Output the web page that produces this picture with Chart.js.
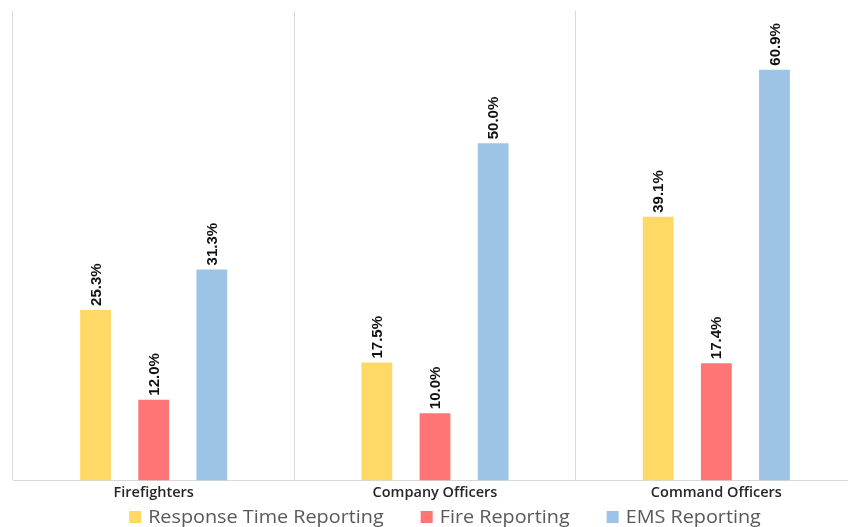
<!DOCTYPE html>
<html>
<head>
<meta charset="utf-8">
<script src="https://cdn.jsdelivr.net/npm/chart.js@4/dist/chart.umd.min.js"></script>
<style>
html,body{margin:0;padding:0;background:#fff;overflow:hidden;width:848px;height:527px;}
#wrap{position:absolute;left:0;top:0;width:862px;height:527px;}
</style>
</head>
<body>
<div id="wrap"><canvas id="c" width="862" height="527"></canvas></div>
<script>
const categories = ["Firefighters", "Company Officers", "Command Officers"];
const seriesNames = ["Response Time Reporting", "Fire Reporting", "EMS Reporting"];
const responseTime = [25.3, 17.5, 39.1];
const fireReporting = [12.0, 10.0, 17.4];
const emsReporting = [31.3, 50.0, 60.9];
const seriesColors = ["#FFD966", "#FF7575", "#9DC3E6"];

const barLabels = {
  id: 'barLabels',
  afterDatasetsDraw(chart) {
    const ctx = chart.ctx;
    ctx.save();
    ctx.font = 'bold 15px "Liberation Sans", sans-serif';
    ctx.fillStyle = '#111';
    ctx.textAlign = 'left';
    ctx.textBaseline = 'middle';
    chart.data.datasets.forEach((ds, i) => {
      const meta = chart.getDatasetMeta(i);
      meta.data.forEach((el, j) => {
        ctx.save();
        ctx.translate(el.x + 1, el.y - 4);
        ctx.rotate(-Math.PI / 2);
        ctx.fillText(ds.data[j].toFixed(1) + '%', 0, 0);
        ctx.restore();
      });
    });
    ctx.restore();
  }
};

const bottomLegend = {
  id: 'bottomLegend',
  afterDraw(chart) {
    const ctx = chart.ctx;
    ctx.save();
    ctx.font = '18px "Open Sans", sans-serif';
    ctx.textBaseline = 'middle';
    ctx.textAlign = 'left';
    const stretch = 1.1;
    const box = 12, gapText = 7, gapItem = 37;
    const items = chart.data.datasets.map(ds => ({ label: ds.label, color: ds.backgroundColor, w: ctx.measureText(ds.label).width * stretch }));
    let total = 0;
    items.forEach((it, i) => { total += box + gapText + it.w + (i < items.length - 1 ? gapItem : 0); });
    const ca = chart.chartArea;
    let x = (ca.left + ca.right) / 2 + 10 - total / 2;
    const y = 517;
    items.forEach(it => {
      ctx.fillStyle = it.color;
      ctx.fillRect(x, y - box / 2, box, box);
      x += box + gapText;
      ctx.fillStyle = '#595959';
      ctx.save();
      ctx.translate(x, y + 1);
      ctx.scale(stretch, 1);
      ctx.fillText(it.label, 0, 0);
      ctx.restore();
      x += it.w + gapItem;
    });
    ctx.restore();
  }
};

new Chart(document.getElementById('c'), {
  type: 'bar',
  data: {
    labels: categories,
    datasets: [
      { label: seriesNames[0], data: responseTime, backgroundColor: seriesColors[0] },
      { label: seriesNames[1], data: fireReporting, backgroundColor: seriesColors[1] },
      { label: seriesNames[2], data: emsReporting, backgroundColor: seriesColors[2] }
    ]
  },
  options: {
    responsive: false,
    animation: false,
    devicePixelRatio: 1,
    datasets: { bar: { categoryPercentage: 0.62, barPercentage: 0.53 } },
    layout: { padding: { left: 13, right: 5, top: 11, bottom: 21 } },
    scales: {
      x: {
        grid: { display: true, offset: true, color: '#D9D9D9', lineWidth: 1, drawTicks: false },
        border: { display: true, color: '#D9D9D9' },
        ticks: { color: '#262626', font: { family: '"Open Sans", sans-serif', size: 14.5, weight: '600' }, padding: 4 }
      },
      y: {
        display: false,
        min: 0, max: 69.6,
        grid: { display: false }
      }
    },
    plugins: {
      legend: { display: false },
      tooltip: { enabled: false }
    }
  },
  plugins: [barLabels, bottomLegend]
});
</script>
</body>
</html>
